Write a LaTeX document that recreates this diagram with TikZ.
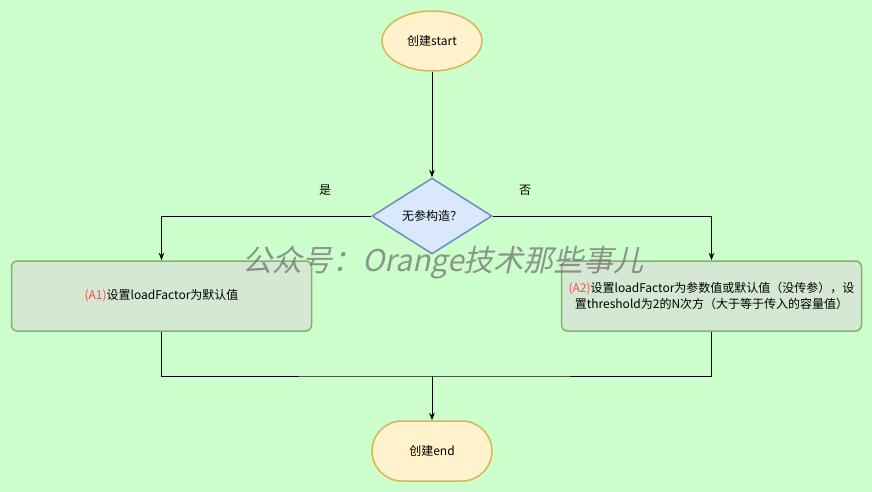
\documentclass[tikz,border=0pt]{standalone}
\usepackage{fontspec}
\setmainfont{Noto Sans CJK SC}
\newfontfamily\wmfont[FakeSlant=0.22]{Noto Sans CJK SC}
\usetikzlibrary{shapes.geometric,arrows.meta}
\definecolor{bgc}{HTML}{CCFFCC}
\definecolor{termfill}{HTML}{FFF2CC}
\definecolor{termline}{HTML}{D6B656}
\definecolor{decfill}{HTML}{DAE8FC}
\definecolor{decline}{HTML}{6C8EBF}
\definecolor{procfill}{HTML}{D5E8D4}
\definecolor{procline}{HTML}{82B366}
\definecolor{tagred}{HTML}{FF4D4D}

\begin{document}
\begin{tikzpicture}[x=1pt,y=-1pt,>=Stealth,
        every node/.style={font=\fontsize{12}{16}\selectfont},
        term/.style={draw=termline,fill=termfill,line width=1.5pt},
        decision/.style={diamond,draw=decline,fill=decfill,line width=1.5pt,
            minimum width=120pt,minimum height=76pt,inner sep=0pt},
        proc/.style={rectangle,rounded corners=6pt,draw=procline,fill=procfill,
            line width=1.5pt,minimum width=300pt,minimum height=70pt,align=center},
        flow/.style={line width=1pt}]
        \fill[bgc] (0,0) rectangle (872,492);
        \useasboundingbox (0,0) rectangle (872,492);
        \node[term,ellipse,minimum width=100pt,minimum height=60pt] (start) at (432,41) {创建start};
        \node[decision] (dec) at (432,216) {无参构造？};
        \node (yes) at (325,190) {是};
        \node (no) at (525,190) {否};
        \node[proc] (A1) at (161.5,296) {\textcolor{tagred}{(A1)}设置loadFactor为默认值};
        \node[proc] (A2) at (711.5,296) {\textcolor{tagred}{(A2)}设置loadFactor为参数值或默认值（没传参），设\\置threshold为2的N次方（大于等于传入的容量值）};
        \node[term,rectangle,rounded corners=30pt,minimum width=120pt,minimum height=60pt] (end) at (432,451) {创建end};
        \coordinate (join) at (432,376);
        \draw[flow,->] (start) -- (dec);
        \draw[flow,->] (dec.west) -| (A1.north);
        \draw[flow,->] (dec.east) -| (A2.north);
        \draw[flow] (A1.south) |- (join) -| (A2.south);
        \draw[flow,->] (join) -- (end);
        \node[text=black!55,text opacity=0.75,font=\wmfont\fontsize{30}{33}\selectfont] (mark) at (443,263) {公众号：Orange技术那些事儿};
    \end{tikzpicture}
\end{document}
